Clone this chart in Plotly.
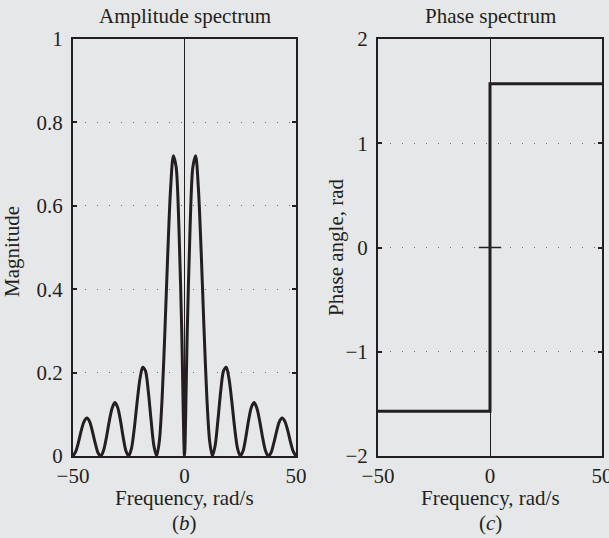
import plotly.graph_objects as go

# ---- data ----
freq = [-50.0, -48.75, -47.5, -46.25, -45.0, -43.75, -42.5, -41.25, -40.0, -38.75,
        -37.5, -36.25, -35.0, -33.75, -32.5, -31.25, -30.0, -28.75, -27.5, -26.25,
        -25.0, -23.75, -22.5, -21.25, -20.0, -18.75, -17.5, -16.25, -15.0, -13.75,
        -12.5, -11.25, -10.0, -8.75, -7.5, -6.25, -5.0, -3.75, -2.5, -1.25,
        0.0,
        1.25, 2.5, 3.75, 5.0, 6.25, 7.5, 8.75, 10.0, 11.25, 12.5,
        13.75, 15.0, 16.25, 17.5, 18.75, 20.0, 21.25, 22.5, 23.75, 25.0,
        26.25, 27.5, 28.75, 30.0, 31.25, 32.5, 33.75, 35.0, 36.25, 37.5,
        38.75, 40.0, 41.25, 42.5, 43.75, 45.0, 46.25, 47.5, 48.75, 50.0]

magnitude = [0.000, 0.011, 0.034, 0.062, 0.083, 0.091, 0.082, 0.058, 0.030, 0.007,
             0.000, 0.014, 0.045, 0.083, 0.114, 0.128, 0.117, 0.086, 0.045, 0.012,
             0.000, 0.019, 0.067, 0.129, 0.184, 0.213, 0.204, 0.156, 0.087, 0.025,
             0.000, 0.037, 0.143, 0.305, 0.486, 0.640, 0.720, 0.693, 0.548, 0.302,
             0.000,
             0.302, 0.548, 0.693, 0.720, 0.640, 0.486, 0.305, 0.143, 0.037, 0.000,
             0.025, 0.087, 0.156, 0.204, 0.213, 0.184, 0.129, 0.067, 0.019, 0.000,
             0.012, 0.045, 0.086, 0.117, 0.128, 0.114, 0.083, 0.045, 0.014, 0.000,
             0.007, 0.030, 0.058, 0.082, 0.091, 0.083, 0.062, 0.034, 0.011, 0.000]

phase_freq = [-50, 0, 0, 50]
phase = [-1.5708, -1.5708, 1.5708, 1.5708]

zero_mark_freq = [-5, 5]
zero_mark_phase = [0, 0]

mag_ticks = [0, 0.2, 0.4, 0.6, 0.8, 1]
mag_ticklabels = ["0", "0.2", "0.4", "0.6", "0.8", "1"]
phase_ticks = [-2, -1, 0, 1, 2]
freq_ticks = [-50, 0, 50]

# ---- styling ----
BG = "#e6e7e8"
INK = "#231f20"
FONT = "Liberation Serif"
FS = 21
W, H = 609, 538

def fx(px):
    return px / W

def fy(py):
    return 1 - py / H

fig = go.Figure()

fig.add_trace(go.Scatter(x=freq, y=magnitude, mode="lines",
                         line=dict(color=INK, width=3, shape="spline", smoothing=0.8),
                         xaxis="x", yaxis="y", showlegend=False, hoverinfo="skip"))

fig.add_trace(go.Scatter(x=zero_mark_freq, y=zero_mark_phase, mode="lines",
                         line=dict(color=INK, width=1.5),
                         xaxis="x2", yaxis="y2", showlegend=False, hoverinfo="skip"))

fig.add_trace(go.Scatter(x=phase_freq, y=phase, mode="lines",
                         line=dict(color=INK, width=3),
                         xaxis="x2", yaxis="y2", showlegend=False, hoverinfo="skip"))

xl, xr = 73, 296
x2l, x2r = 378, 602
yt, yb = 39, 456

common_x = dict(
    showgrid=False, zeroline=True, zerolinecolor=INK, zerolinewidth=1,
    showline=True, linecolor=INK, linewidth=2, mirror=True,
    ticks="", tickvals=freq_ticks, ticklabelstandoff=0, automargin=False,
    ticklabeloverflow="allow",
    tickfont=dict(family=FONT, size=FS, color=INK),
    range=[-50, 50], fixedrange=True,
)
common_y = dict(
    showgrid=True, gridcolor="#6d6e70", gridwidth=1, griddash="1px,11px",
    zeroline=False, automargin=False, ticklabeloverflow="allow",
    showline=True, linecolor=INK, linewidth=2, mirror="allticks",
    ticks="inside", ticklen=4, tickwidth=1.5, tickcolor=INK,
    ticklabelstandoff=4,
    tickfont=dict(family=FONT, size=FS, color=INK),
    fixedrange=True,
)

fig.update_layout(
    width=W, height=H,
    margin=dict(l=0, r=0, t=0, b=0, autoexpand=False),
    paper_bgcolor=BG, plot_bgcolor=BG,
    font=dict(family=FONT, size=FS, color=INK),
    xaxis=dict(domain=[fx(xl), fx(xr)], anchor="y", **common_x),
    yaxis=dict(domain=[fy(yb), fy(yt)], anchor="x", range=[0, 1],
               tickvals=mag_ticks, ticktext=mag_ticklabels, **common_y),
    xaxis2=dict(domain=[fx(x2l), fx(x2r)], anchor="y2", **common_x),
    yaxis2=dict(domain=[fy(yb), fy(yt)], anchor="x2", range=[-2, 2],
                tickvals=phase_ticks, **common_y),
)

ann = [
    dict(text="Amplitude spectrum", x=fx((xl + xr) / 2), y=fy(16)),
    dict(text="Phase spectrum", x=fx((x2l + x2r) / 2), y=fy(16)),
    dict(text="Frequency, rad/s", x=fx((xl + xr) / 2), y=fy(498)),
    dict(text="Frequency, rad/s", x=fx((x2l + x2r) / 2), y=fy(498)),
    dict(text="(<i>b</i>)", x=fx((xl + xr) / 2), y=fy(523)),
    dict(text="(<i>c</i>)", x=fx((x2l + x2r) / 2), y=fy(523)),
    dict(text="Magnitude", x=fx(12), y=fy(252), textangle=-90),
    dict(text="Phase angle, rad", x=fx(336), y=fy(247), textangle=-90),
]
for a in ann:
    fig.add_annotation(xref="paper", yref="paper", showarrow=False,
                       xanchor="center", yanchor="middle",
                       font=dict(family=FONT, size=FS, color=INK), **a)

fig.write_html("out.html")
